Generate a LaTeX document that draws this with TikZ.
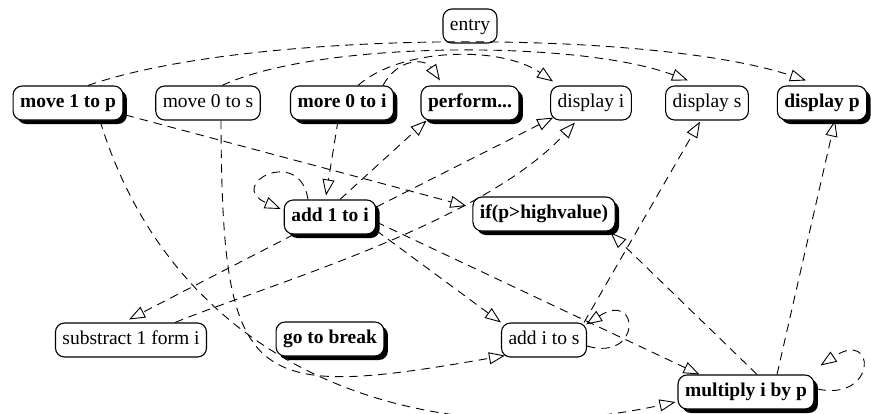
\documentclass[tikz,border=0pt]{standalone}
\usepackage{fontspec}
\setmainfont{Liberation Serif}
\usetikzlibrary{arrows.meta,shadows,calc}
\begin{document}
\begin{tikzpicture}[x=1pt,y=-1pt,
  box/.style={draw, line width=1.1pt, rounded corners=9pt, fill=white, inner xsep=7pt, inner ysep=0pt,
    text height=14pt, text depth=5pt, minimum height=34pt, font=\fontsize{19.5}{23}\selectfont},
  bbox/.style={box, font=\fontsize{19.5}{23}\selectfont\bfseries,
    drop shadow={shadow xshift=4pt, shadow yshift=-4pt, fill=black, opacity=1}},
  dep/.style={draw, line width=0.9pt, dash pattern=on 8.5pt off 6pt,
    -{Triangle[open, length=16pt, width=12pt]}}]
\useasboundingbox (0,0) rectangle (871,413);

% nodes
\node[box]  (entry) at (470,26)  {entry};
\node[bbox] (m1p)   at (68,103)  {move 1 to p};
\node[box]  (m0s)   at (208,103) {move 0 to s};
\node[bbox] (m0i)   at (342,103) {more 0 to i};
\node[bbox] (perf)  at (470,103) {perform...};
\node[box]  (di)    at (591,103) {display i};
\node[box]  (ds)    at (707,103) {display s};
\node[bbox] (dp)    at (822,103) {display p};
\node[bbox] (a1i)   at (330,217) {add 1 to i};
\node[bbox] (ifp)   at (544,214) {if(p>highvalue)};
\node[box]  (s1i)   at (131,340) {substract 1 form i};
\node[bbox] (gtb)   at (330,339) {go to break};
\node[box]  (ais)   at (544,340) {add i to s};
\node[bbox] (mip)   at (746,392) {multiply i by p};

% connectors
\draw[dep] ($(m1p.north)+(20,0)$) .. controls (250,29) and (650,29) .. ($(dp.north)+(-16,-5)$);
\draw[dep] ($(m0s.north)+(14,0)$) .. controls (320,40) and (580,40) .. ($(ds.north)+(-19,-5)$);
\draw[dep] ($(m0i.north)+(16,0)$) .. controls (400,48) and (500,45) .. ($(di.north)+(-38,-4)$);
\draw[dep] ($(m0i.north)+(41,0)$) .. controls (398,58) and (425,58) .. ($(perf.north)+(-30,-5)$);
\draw[dep] ($(m0i.south)+(-4,0)$) -- ($(a1i.north)+(-4,-4)$);
\draw[dep] ($(a1i.north)+(-22,0)$) .. controls (300,145) and (225,185) .. ($(a1i.west)+(-3,-8)$);
\draw[dep] ($(a1i.north)+(10,0)$) -- ($(perf.south west)+(6,0)$);
\draw[dep] ($(a1i.east)+(0,-10)$) -- ($(di.south west)+(3,-3)$);
\draw[dep] ($(s1i.north)+(44,0)$) .. controls (270,284) and (483,223) .. ($(di.south)+(-16,2)$);
\draw[dep] ($(a1i.south west)+(10,0)$) -- ($(s1i.north)+(-2,-3)$);
\draw[dep] ($(m1p.east)+(2,12)$) -- ($(ifp.west)+(-6,-8)$);
\draw[dep] ($(m1p.south)+(32,0)$) .. controls (175,367) and (416,458) .. ($(mip.west)+(-2,10)$);
\draw[dep] ($(m0s.south)+(13,0)$) .. controls (222,390) and (250,400) .. ($(ais.south west)+(4,-2)$);
\draw[dep] ($(a1i.south east)+(0,-4)$) -- (ais.north west);
\draw[dep] ($(a1i.east)+(0,5)$) -- ($(mip.north west)+(22,0)$);
\draw[dep] ($(ais.north east)+(-3,0)$) -- ($(ds.south)+(-7,1)$);
\draw[dep] ($(ais.east)+(0,6)$) .. controls (642,362) and (640,290) .. ($(ais.north east)+(-1,2)$);
\draw[dep] ($(mip.north)+(11,0)$) -- ($(ifp.south east)+(-5,1)$);
\draw[dep] ($(mip.north)+(31,0)$) -- ($(dp.south)+(13,0)$);
\draw[dep] ($(mip.east)+(3,-3)$) .. controls (877,402) and (877,328) .. ($(mip.north east)+(6,-9)$);
\end{tikzpicture}
\end{document}
